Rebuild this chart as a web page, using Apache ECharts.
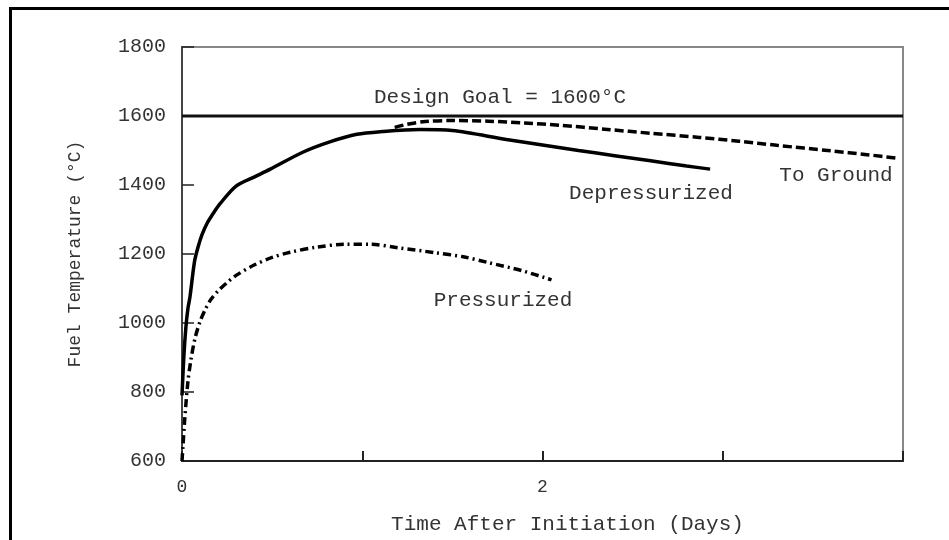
<!DOCTYPE html>
<html><head><meta charset="utf-8">
<script src="https://cdn.jsdelivr.net/npm/echarts@6/dist/echarts.min.js"></script>
<style>html,body{margin:0;padding:0;background:#fff}#c{width:949px;height:540px}</style>
</head><body><div id="c"></div>
<script>
// Data
const xTicks = [0, 1, 2, 3, 4];
const xTickLabels = ['0', '', '2', '', ''];
const yTicks = [600, 800, 1000, 1200, 1400, 1600, 1800];
const yTickLabels = ['600', '800', '1000', '1200', '1400', '1600', '1800'];

const depT = [0, 0.01, 0.022, 0.033, 0.044, 0.07, 0.09, 0.11, 0.14, 0.17, 0.21, 0.3, 0.4, 0.49, 0.67, 0.82, 0.97, 1.11, 1.32, 1.5, 1.8, 2.0, 2.2, 2.4, 2.6, 2.8, 2.93];
const depV = [790, 900, 990, 1042, 1075, 1180, 1222, 1255, 1290, 1315, 1345, 1397, 1423, 1446, 1495, 1525, 1547, 1555, 1561, 1558, 1532, 1516, 1500, 1485, 1470, 1455, 1446];

const grdT = [1.18, 1.25, 1.35, 1.5, 1.7, 1.9, 2.1, 2.36, 2.6, 2.87, 3.09, 3.3, 3.6, 3.8, 3.98];
const grdV = [1567, 1576, 1584, 1587, 1585, 1580, 1573, 1561, 1550, 1538, 1527, 1515, 1499, 1488, 1477];

const prsT = [0, 0.005, 0.015, 0.033, 0.05, 0.072, 0.1, 0.13, 0.16, 0.2, 0.25, 0.3, 0.4, 0.5, 0.6, 0.75, 0.9, 1.05, 1.2, 1.4, 1.56, 1.7, 1.89, 2.05];
const prsV = [600, 640, 720, 831, 895, 955, 1004, 1040, 1068, 1093, 1117, 1138, 1168, 1190, 1205, 1220, 1228, 1228, 1218, 1204, 1192, 1175, 1151, 1125];

const goalT = [0, 4];
const goalV = [1600, 1600];

const labels = ['Design Goal = 1600°C', 'Depressurized', 'To Ground', 'Pressurized'];
const xTitle = 'Time After Initiation (Days)';
const yTitle = 'Fuel Temperature (°C)';

const zip = (a, b) => a.map((v, i) => [v, b[i]]);
const FONT = '"Liberation Mono", "DejaVu Sans Mono", monospace';
const TXT = '#333';

const chart = echarts.init(document.getElementById('c'), null, {renderer: 'canvas'});
chart.setOption({
  animation: false,
  backgroundColor: '#fff',
  grid: {left: 182, right: 46, top: 47, bottom: 77, show: true, borderColor: '#888', borderWidth: 2, containLabel: false},
  xAxis: {
    type: 'value', min: 0, max: 4, interval: 1,
    axisLine: {show: true, onZero: false, lineStyle: {color: '#222', width: 2}},
    axisTick: {show: true, inside: true, length: 10, lineStyle: {color: '#222', width: 2}},
    axisLabel: {fontFamily: FONT, fontSize: 18, color: TXT, margin: 17,
      formatter: v => xTickLabels[xTicks.indexOf(v)] || ''},
    splitLine: {show: false},
    name: xTitle, nameLocation: 'middle', nameGap: 53,
    nameTextStyle: {fontFamily: FONT, fontSize: 21, color: TXT, padding: [0, 0, 0, 50]}
  },
  yAxis: {
    type: 'value', min: 600, max: 1800, interval: 200,
    axisLine: {show: true, lineStyle: {color: '#444', width: 2}},
    axisTick: {show: true, inside: true, length: 12, lineStyle: {color: '#222', width: 1.5}},
    axisLabel: {fontFamily: FONT, fontSize: 20, color: TXT, margin: 16,
      formatter: v => yTickLabels[yTicks.indexOf(v)] || ''},
    splitLine: {show: false},
    name: yTitle, nameLocation: 'middle', nameGap: 98,
    nameTextStyle: {fontFamily: FONT, fontSize: 18, color: TXT}
  },
  series: [
    {type: 'line', data: zip(goalT, goalV), symbol: 'none', lineStyle: {color: '#111', width: 3}},
    {type: 'line', data: zip(depT, depV), symbol: 'none', smooth: 0.3, lineStyle: {color: '#000', width: 3.5}},
    {type: 'line', data: zip(grdT, grdV), symbol: 'none', smooth: 0.3, lineStyle: {color: '#000', width: 3.5, type: [9, 4]}},
    {type: 'line', data: zip(prsT, prsV), symbol: 'none', smooth: 0.3, lineStyle: {color: '#000', width: 3.5, type: [8, 4, 2, 4]}}
  ],
  graphic: [
    {type: 'rect', left: 8, top: 6, shape: {width: 980, height: 600}, style: {fill: 'none', stroke: '#000', lineWidth: 3}, silent: true},
    {type: 'text', x: 500, y: 97, style: {text: labels[0], font: '21px ' + FONT, fill: TXT, align: 'center', verticalAlign: 'middle'}},
    {type: 'text', x: 651, y: 193, style: {text: labels[1], font: '21px ' + FONT, fill: TXT, align: 'center', verticalAlign: 'middle'}},
    {type: 'text', x: 836, y: 175, style: {text: labels[2], font: '21px ' + FONT, fill: TXT, align: 'center', verticalAlign: 'middle'}},
    {type: 'text', x: 503, y: 300, style: {text: labels[3], font: '21px ' + FONT, fill: TXT, align: 'center', verticalAlign: 'middle'}}
  ]
});
</script></body></html>
